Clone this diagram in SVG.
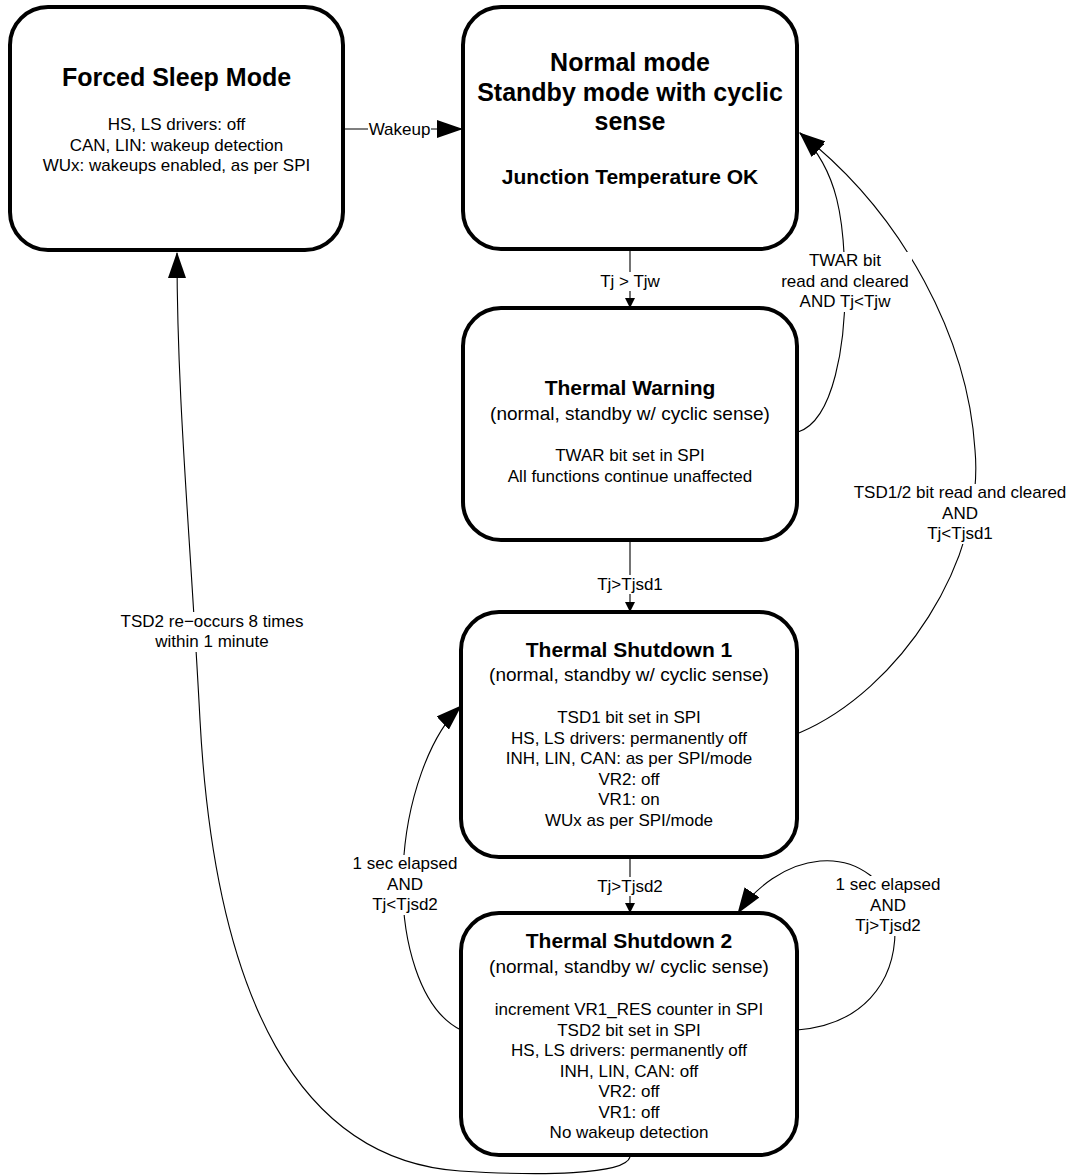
<svg xmlns="http://www.w3.org/2000/svg" width="1070" height="1175" viewBox="0 0 1070 1175">
<style>
.node rect{fill:#fff;stroke:#000;stroke-width:4}
text{font-family:"Liberation Sans",Arial,sans-serif;fill:#000;text-anchor:middle}
.t25{font-size:25px;font-weight:bold}
.t21{font-size:21px;font-weight:bold}
.sub{font-size:19px}
.b{font-size:17px}
.lbl{font-size:17px}
.edge{fill:none;stroke:#000;stroke-width:1.1}
.bg{fill:#fff;stroke:none}
</style>
<defs>
<marker id="big" viewBox="0 0 26 18" markerWidth="26" markerHeight="18" refX="25" refY="9" orient="auto" markerUnits="userSpaceOnUse"><path d="M0,0 L26,9 L0,18 Z" fill="#000"/></marker>
<marker id="small" viewBox="0 0 10 10" markerWidth="10" markerHeight="10" refX="10" refY="5" orient="auto" markerUnits="userSpaceOnUse"><path d="M0,0 L10,5 L0,10 Z" fill="#000"/></marker>
</defs>

<g id="connectors">
<path class="edge" d="M343,129 L462,129" marker-end="url(#big)"/>
<path class="edge" d="M630,249 L630,308" marker-end="url(#small)"/>
<path class="edge" d="M630,540 L630,612" marker-end="url(#small)"/>
<path class="edge" d="M630,857 L630,913" marker-end="url(#small)"/>
<path class="edge" d="M798,432 C835,420 845,340 845,290 C845,220 838,170 800,133" marker-end="url(#big)"/>
<path class="edge" d="M799,733 C900,690 985,560 975,450 C968,340 905,215 800,133" marker-end="url(#big)"/>
<path class="edge" d="M461,1030 C420,1010 400,940 403,870 C406,800 430,735 461,706" marker-end="url(#big)"/>
<path class="edge" d="M797,1030 C860,1025 897,985 895,925 C893,880 855,858 820,861 C785,864 755,888 738,913" marker-end="url(#big)"/>
<path class="edge" d="M630,1157 C625,1175 540,1176 460,1171 C300,1160 215,1000 200,720 C190,530 177,400 177,253" marker-end="url(#big)"/>

<rect class="bg" x="368" y="120" width="63" height="19"/>
<text class="lbl" x="399.5" y="135">Wakeup</text>
<rect class="bg" x="598" y="272" width="64" height="19"/>
<text class="lbl" x="630" y="287">Tj &gt; Tjw</text>
<rect class="bg" x="594" y="575" width="72" height="19"/>
<text class="lbl" x="630" y="590">Tj&gt;Tjsd1</text>
<rect class="bg" x="594" y="877" width="72" height="19"/>
<text class="lbl" x="630" y="892">Tj&gt;Tjsd2</text>
<rect class="bg" x="778" y="252" width="134" height="60"/>
<text class="lbl" x="845" y="266">TWAR bit</text>
<text class="lbl" x="845" y="286.5">read and cleared</text>
<text class="lbl" x="845" y="307">AND Tj&lt;Tjw</text>
<rect class="bg" x="852" y="484" width="216" height="60"/>
<text class="lbl" x="960" y="498">TSD1/2 bit read and cleared</text>
<text class="lbl" x="960" y="518.5">AND</text>
<text class="lbl" x="960" y="539">Tj&lt;Tjsd1</text>
<rect class="bg" x="352" y="855" width="108" height="60"/>
<text class="lbl" x="405" y="869">1 sec elapsed</text>
<text class="lbl" x="405" y="889.5">AND</text>
<text class="lbl" x="405" y="910">Tj&lt;Tjsd2</text>
<rect class="bg" x="834" y="876" width="108" height="60"/>
<text class="lbl" x="888" y="890">1 sec elapsed</text>
<text class="lbl" x="888" y="910.5">AND</text>
<text class="lbl" x="888" y="931">Tj&gt;Tjsd2</text>
<rect class="bg" x="118" y="612" width="190" height="40"/>
<text class="lbl" x="212" y="627">TSD2 re−occurs 8 times</text>
<text class="lbl" x="212" y="647">within 1 minute</text>
</g>

<g id="forced-sleep" class="node">
<rect x="10" y="7" width="333" height="243" rx="38"/>
<text class="t25" x="176.5" y="86">Forced Sleep Mode</text>
<text class="b" x="176.5" y="130">HS, LS drivers: off</text>
<text class="b" x="176.5" y="150.5">CAN, LIN: wakeup detection</text>
<text class="b" x="176.5" y="171">WUx: wakeups enabled, as per SPI</text>
</g>

<g id="normal" class="node">
<rect x="463" y="7" width="334" height="242" rx="38"/>
<text class="t25" x="630" y="71">Normal mode</text>
<text class="t25" x="630" y="101">Standby mode with cyclic</text>
<text class="t25" x="630" y="130">sense</text>
<text class="t21" x="630" y="184">Junction Temperature OK</text>
</g>

<g id="thermal-warning" class="node">
<rect x="463" y="308" width="334" height="232" rx="38"/>
<text class="t21" x="630" y="395">Thermal Warning</text>
<text class="sub" x="630" y="420">(normal, standby w/ cyclic sense)</text>
<text class="b" x="630" y="461">TWAR bit set in SPI</text>
<text class="b" x="630" y="481.5">All functions continue unaffected</text>
</g>

<g id="thermal-shutdown-1" class="node">
<rect x="461" y="612" width="336" height="245" rx="38"/>
<text class="t21" x="629" y="657">Thermal Shutdown 1</text>
<text class="sub" x="629" y="681">(normal, standby w/ cyclic sense)</text>
<text class="b" x="629" y="723">TSD1 bit set in SPI</text>
<text class="b" x="629" y="743.5">HS, LS drivers: permanently off</text>
<text class="b" x="629" y="764">INH, LIN, CAN: as per SPI/mode</text>
<text class="b" x="629" y="784.5">VR2: off</text>
<text class="b" x="629" y="805">VR1: on</text>
<text class="b" x="629" y="825.5">WUx as per SPI/mode</text>
</g>

<g id="thermal-shutdown-2" class="node">
<rect x="461" y="913" width="336" height="242" rx="38"/>
<text class="t21" x="629" y="948">Thermal Shutdown 2</text>
<text class="sub" x="629" y="973">(normal, standby w/ cyclic sense)</text>
<text class="b" x="629" y="1015">increment VR1_RES counter in SPI</text>
<text class="b" x="629" y="1035.5">TSD2 bit set in SPI</text>
<text class="b" x="629" y="1056">HS, LS drivers: permanently off</text>
<text class="b" x="629" y="1076.5">INH, LIN, CAN: off</text>
<text class="b" x="629" y="1097">VR2: off</text>
<text class="b" x="629" y="1117.5">VR1: off</text>
<text class="b" x="629" y="1138">No wakeup detection</text>
</g>
</svg>
